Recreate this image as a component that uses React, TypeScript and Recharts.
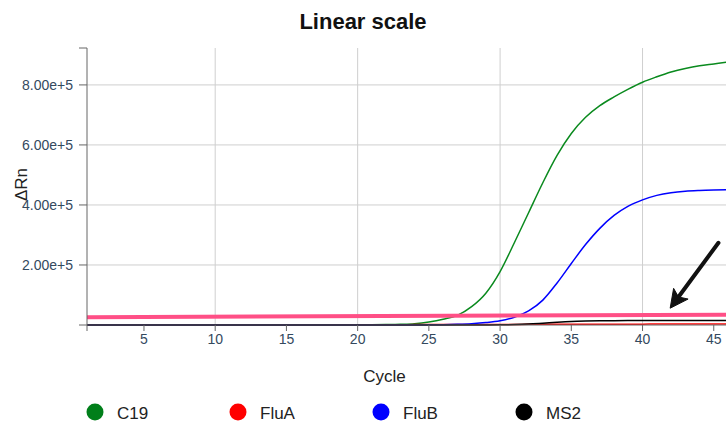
import React from "react";
import { LineChart, Line, XAxis, YAxis, CartesianGrid, ReferenceLine } from "recharts";

const FONT = "'Liberation Sans', Arial, Helvetica, sans-serif";

const cycles = [
  1, 2, 3, 4, 5, 6, 7, 8, 9, 10, 11, 12, 13, 14, 15, 16, 17, 18, 19, 20, 21, 22, 23,
  24, 25, 26, 27, 28, 29, 30, 31, 32, 33, 34, 35, 36, 37, 38, 39, 40, 41, 42, 43, 44, 45, 46,
];

const c19 = [
  0, 0, 0, 0, 0, 0, 0, 0, 0, 0, 0, 0, 0, 0, 0, 0, 0, 0, 200, 500, 900, 1500, 2500,
  4500, 10000, 19000, 32000, 61000, 106000, 178000, 274000, 374000, 474000, 565000, 638000,
  692000, 731000, 760000, 786000, 809000, 827000, 843000, 855000, 864000, 870000, 876000,
];

const fluA = [
  0, 0, 0, 0, 0, 0, 0, 0, 0, 0, 0, 0, 0, 0, 0, 0, 200, 400, 600, 800, 1000, 1100, 1200,
  1300, 1400, 1500, 1600, 1700, 1800, 1900, 2000, 2100, 2200, 2300, 2400, 2500, 2600, 2700,
  2800, 2900, 3000, 3000, 3100, 3100, 3200, 3200,
];

const fluB = [
  0, 0, 0, 0, 0, 0, 0, 0, 0, 0, 0, 0, 0, 0, 0, 0, 0, 0, 0, 0, 0, 0, 0, 0, 500, 1200,
  2500, 4500, 8000, 14000, 26000, 47000, 83000, 140000, 205000, 268000, 322000, 365000,
  396000, 417000, 432000, 441000, 446000, 448500, 450000, 451000,
];

const ms2 = [
  0, 0, 0, 0, 0, 0, 0, 0, 0, 0, 0, 0, 0, 0, 0, 0, 0, 0, 0, 0, 0, 0, 0, 0, 0, 0, 0, 0, 0,
  500, 1500, 3200, 6000, 9000, 11500, 13000, 14000, 14500, 14700, 14900, 15000, 15000,
  15100, 15100, 15200, 15200,
];

// threshold line (start / end) and the annotation arrow (tail / tip), in data units
const threshold = [
  { x: 1, y: 26000 },
  { x: 46, y: 34000 },
];
const arrow = [
  { x: 45.33, y: 274000 },
  { x: 41.94, y: 56000 },
];

const xTicks = [1, 5, 10, 15, 20, 25, 30, 35, 40, 45];
const yTicks = [0, 200000, 400000, 600000, 800000, 923000];
const yLabelled = [200000, 400000, 600000, 800000];
const yDomain = [0, 923000];

const series = [
  { key: "C19", values: c19, color: "#0a8a1e", legend: "#007f1a" },
  { key: "FluA", values: fluA, color: "#ff0000", legend: "#ff0000" },
  { key: "FluB", values: fluB, color: "#0000ff", legend: "#0000ff" },
  { key: "MS2", values: ms2, color: "#000000", legend: "#000000" },
];

const data = cycles.map((cycle, i) => {
  const row: Record<string, number> = { cycle };
  series.forEach((s) => (row[s.key] = s.values[i]));
  return row;
});

const tickStyle = { fill: "#34495e", fontSize: 14, fontFamily: FONT };

function ArrowShape(props: any) {
  const { x1, y1, x2, y2 } = props;
  const dx = x2 - x1;
  const dy = y2 - y1;
  const len = Math.sqrt(dx * dx + dy * dy);
  const ux = dx / len;
  const uy = dy / len;
  const head = 18;
  const half = 9;
  const bx = x2 - ux * head;
  const by = y2 - uy * head;
  const pts = `${x2},${y2} ${bx - uy * half},${by + ux * half} ${bx + ux * 4},${by + uy * 4} ${bx + uy * half},${by - ux * half}`;
  return (
    <g>
      <line x1={x1} y1={y1} x2={bx + ux * 5} y2={by + uy * 5} stroke="#111" strokeWidth={4} strokeLinecap="round" />
      <polygon points={pts} fill="#111" stroke="#111" strokeWidth={1} strokeLinejoin="round" />
    </g>
  );
}

export default function App() {
  return (
    <div
      style={{
        position: "absolute",
        left: 0,
        top: 0,
        width: 726,
        height: 422,
        overflow: "hidden",
        background: "#fff",
        fontFamily: FONT,
      }}
    >
      <div
        style={{
          position: "absolute",
          top: 11,
          left: 0,
          width: 726,
          textAlign: "center",
          fontSize: 22,
          lineHeight: "22px",
          fontWeight: "bold",
          color: "#111",
        }}
      >
        Linear scale
      </div>

      <LineChart
        width={728}
        height={422}
        data={data}
        margin={{ top: 48, right: 0, bottom: 67, left: 0 }}
        style={{ position: "absolute", left: 0, top: 0 }}
      >
        <CartesianGrid
          stroke="#cfcfcf"
          horizontalValues={yLabelled}
          verticalValues={[10, 20, 30, 40]}
        />
        <XAxis
          type="number"
          dataKey="cycle"
          domain={[1, 46]}
          ticks={xTicks}
          interval={0}
          tickFormatter={(v) => (v === 1 ? "" : String(v))}
          stroke="#666"
          tickSize={6}
          tickMargin={3}
          tick={tickStyle}
          height={30}
          label={{
            content: (p: any) => {
              const vb = p.viewBox || { x: 87, y: 325, width: 641 };
              return (
                <text
                  x={vb.x + vb.width / 2 - 23}
                  y={vb.y + 57}
                  textAnchor="middle"
                  fontSize={17}
                  fontFamily={FONT}
                  fill="#222"
                >
                  Cycle
                </text>
              );
            },
          }}
        />
        <YAxis
          type="number"
          domain={yDomain}
          ticks={yTicks}
          interval={0}
          tickFormatter={(v) => (yLabelled.includes(v) ? v.toExponential(2) : "")}
          stroke="#666"
          width={87}
          tickSize={8}
          tickMargin={6}
          tick={tickStyle}
          label={{
            content: (p: any) => {
              const vb = p.viewBox || { x: 0, y: 48, height: 277 };
              const x = vb.x + 21;
              const y = vb.y + vb.height / 2 - 2;
              return (
                <text
                  x={x}
                  y={y}
                  transform={`rotate(-90, ${x}, ${y})`}
                  textAnchor="middle"
                  dominantBaseline="central"
                  fontSize={17}
                  fontFamily={FONT}
                  fill="#222"
                >
                  ΔRn
                </text>
              );
            },
          }}
        />
        {series.map((s) => (
          <Line
            key={s.key}
            type="monotone"
            dataKey={s.key}
            stroke={s.color}
            strokeWidth={1.5}
            dot={false}
            isAnimationActive={false}
          />
        ))}
        <ReferenceLine
          segment={threshold}
          stroke="#ff4f86"
          strokeWidth={4}
          ifOverflow="visible"
        />
        <ReferenceLine segment={arrow} shape={ArrowShape} ifOverflow="visible" />
      </LineChart>

      <div style={{ position: "absolute", left: 86, top: 403, display: "flex" }}>
        {series.map((s) => (
          <div key={s.key} style={{ width: 143, display: "flex", alignItems: "center" }}>
            <svg width={18} height={18} style={{ marginTop: -4 }}>
              <circle cx={9} cy={9} r={8.5} fill={s.legend} />
            </svg>
            <span style={{ marginLeft: 13, fontSize: 17, color: "#222", lineHeight: "22px" }}>{s.key}</span>
          </div>
        ))}
      </div>
    </div>
  );
}
